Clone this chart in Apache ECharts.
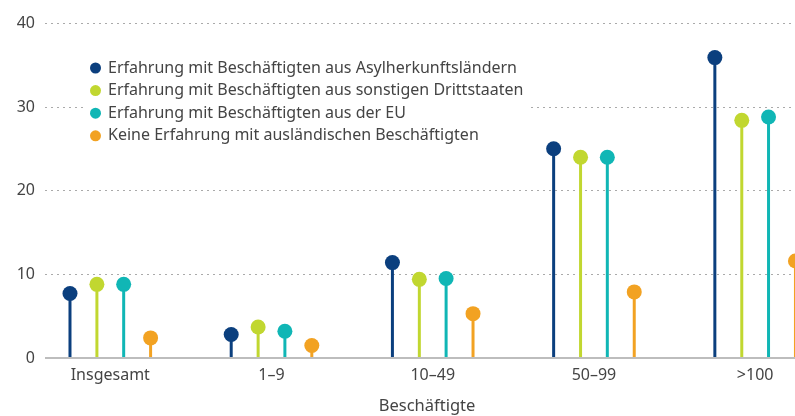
<!DOCTYPE html>
<html><head><meta charset="utf-8">
<script src="https://cdn.jsdelivr.net/npm/echarts@6/dist/echarts.min.js"></script>
<style>html,body{margin:0;padding:0;background:#fff}#c{width:795px;height:416px}</style>
</head><body><div id="c"></div>
<script>
var categories = ['Insgesamt', '1–9', '10–49', '50–99', '>100'];
var seriesNames = [
  'Erfahrung mit Beschäftigten aus Asylherkunftsländern',
  'Erfahrung mit Beschäftigten aus sonstigen Drittstaaten',
  'Erfahrung mit Beschäftigten aus der EU',
  'Keine Erfahrung mit ausländischen Beschäftigten'
];
var asyl = [7.7, 2.8, 11.4, 25.0, 35.9];
var dritt = [8.8, 3.7, 9.4, 24.0, 28.4];
var eu = [8.8, 3.2, 9.5, 24.0, 28.8];
var keine = [2.4, 1.5, 5.3, 7.9, 11.6];
var yTicks = [0, 10, 20, 30, 40];
var xTitle = 'Beschäftigte';

var colors = ['#0b3f7e', '#c1d730', '#10b6b5', '#f2a222'];
var values = [asyl, dritt, eu, keine];
var offsets = [-0.25, -0.083, 0.083, 0.25];
var font = '"Noto Sans", sans-serif';
var series = [];
values.forEach(function (vals, s) {
  var pts = vals.map(function (v, i) { return [i + offsets[s], v]; });
  series.push({
    name: seriesNames[s], type: 'bar', data: pts, barWidth: 3, barGap: '-100%',
    itemStyle: { color: colors[s] }, silent: true, z: 2
  });
  series.push({
    name: seriesNames[s], type: 'scatter', data: pts, symbol: 'circle', symbolSize: 15,
    itemStyle: { color: colors[s], opacity: 1 }, z: 3
  });
});

var chart = echarts.init(document.getElementById('c'), null, { renderer: 'canvas' });
chart.setOption({
  animation: false,
  color: colors,
  grid: { left: 45, right: -14, top: 23.3, bottom: 58, containLabel: false, outerBoundsMode: 'none' },
  legend: {
    orient: 'vertical', left: 84, top: 57, padding: [3, 6, 3, 6],
    backgroundColor: '#fff', itemWidth: 11, itemHeight: 11, itemGap: 6.6,
    icon: 'circle', data: seriesNames,
    textStyle: { fontFamily: font, fontSize: 16, color: '#444', padding: [0, 0, 0, 2] }
  },
  xAxis: {
    type: 'value', min: -0.405, max: 4.334,
    name: xTitle, nameLocation: 'middle', nameGap: 40,
    nameTextStyle: { fontFamily: font, fontSize: 16.5, color: '#444' },
    axisLine: { show: false },
    axisTick: { show: false },
    splitLine: { show: false },
    axisLabel: {
      customValues: [0, 1, 2, 3, 4], margin: 9,
      formatter: function (v) { return categories[Math.round(v)]; },
      fontFamily: font, fontSize: 16, color: '#444'
    }
  },
  yAxis: {
    type: 'value', min: 0, max: 40, interval: 10,
    axisLine: { show: false }, axisTick: { show: false },
    axisLabel: {
      margin: 10, fontFamily: font, fontSize: 16, color: '#444',
      formatter: function (v) { return yTicks.indexOf(v) >= 0 ? String(v) : ''; }
    },
    splitLine: {
      lineStyle: { color: '#aaa', type: [2, 4], width: 1 }
    }
  },
  series: series.concat([{
    type: 'line', data: [], silent: true,
    markLine: {
      silent: true, symbol: 'none', label: { show: false },
      lineStyle: { color: '#bdbdbd', type: 'solid', width: 2 },
      data: [{ yAxis: 0 }]
    }
  }])
});
</script>
</body></html>
